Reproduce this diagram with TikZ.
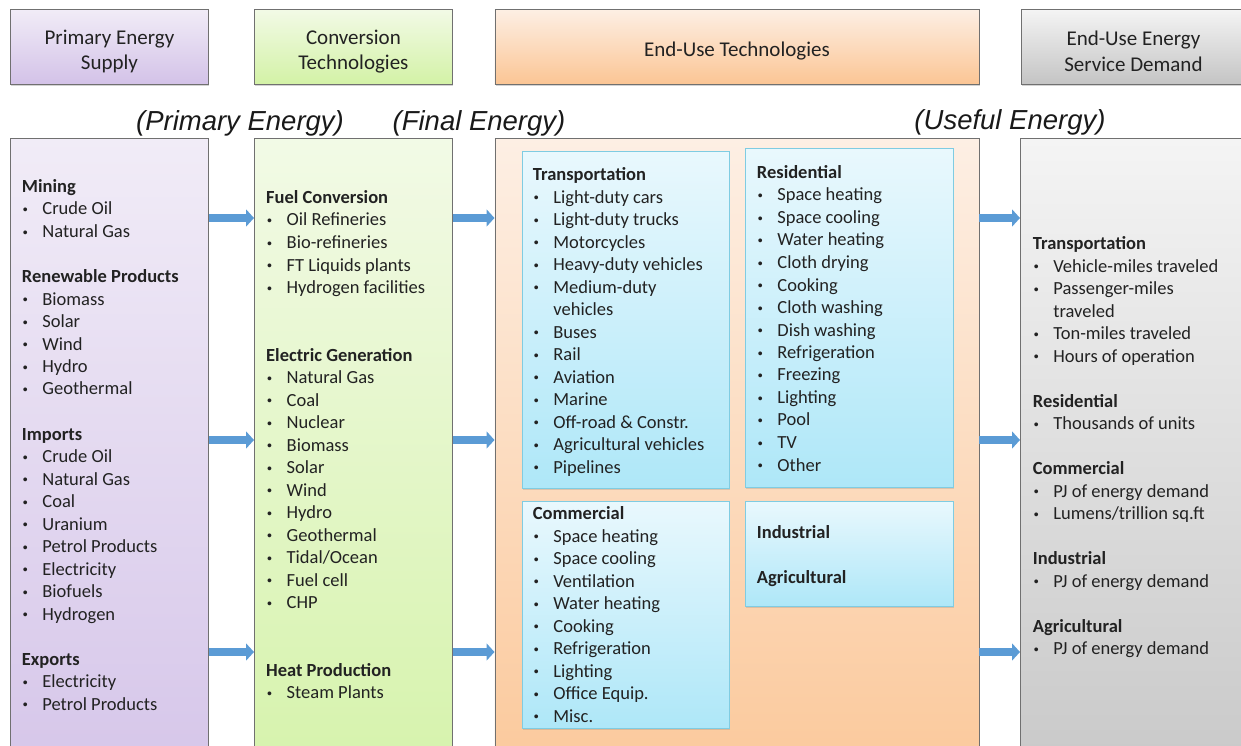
\documentclass[tikz,border=0pt]{standalone}
\usepackage{fontspec}
\setmainfont{Carlito}
\newfontfamily\labfont{Liberation Sans}
\usetikzlibrary{shadows,arrows.meta,calc}

\definecolor{txt}{HTML}{222222}
\definecolor{bordergray}{HTML}{707070}
\definecolor{ptop}{HTML}{F1ECF7}
\definecolor{pbot}{HTML}{D3C2E8}
\definecolor{gtop}{HTML}{F2FAE6}
\definecolor{gbot}{HTML}{D3F2A6}
\definecolor{otop}{HTML}{FDEFE4}
\definecolor{obot}{HTML}{FBC594}
\definecolor{ytop}{HTML}{F4F4F4}
\definecolor{ybot}{HTML}{C4C4C4}
\definecolor{subtop}{HTML}{E9F8FD}
\definecolor{subbot}{HTML}{AEE7F8}
\definecolor{subborder}{HTML}{7FCCE2}
\definecolor{arrowblue}{HTML}{5B9BD5}

\newlength\bw
\setlength\bw{20.5pt}
\newcommand\smallbul{\raisebox{0.2pt}{\labfont\fontsize{14}{14}\selectfont\textbullet}}
\newcommand\bhead[1]{\textbf{#1}\par}
\newcommand\bitem[1]{\makebox[\bw][l]{\hspace{1pt}\smallbul}#1\par}
\newcommand\bcont[1]{\hspace*{\bw}#1\par}
\newcommand\bgap{\mbox{}\par}
\newcommand\blist[1]{\parbox[t]{230pt}{#1}}

\begin{document}
\begin{tikzpicture}[x=1pt,y=-1pt,
  font=\fontsize{18.5}{22.5}\selectfont, text=txt,
  hdr/.style={draw=bordergray, line width=0.8pt, minimum height=75pt,
    anchor=north west, inner sep=0pt,
    drop shadow={shadow xshift=0.6pt, shadow yshift=-1.6pt, opacity=0.35}},
  hdrtext/.style={align=center, inner sep=0pt,
    font=\fontsize{21}{25.5}\selectfont},
  colbox/.style={draw=bordergray, line width=0.8pt, anchor=north west,
    inner sep=0pt, minimum height=700pt},
  subbox/.style={draw=subborder, line width=0.8pt, top color=subtop,
    bottom color=subbot, anchor=north west, inner sep=0pt,
    drop shadow={shadow xshift=0.6pt, shadow yshift=-1.6pt, opacity=0.25}},
  txtblk/.style={anchor=base west, inner sep=0pt},
  elabel/.style={font=\labfont\itshape\fontsize{27.5}{30}\selectfont, text=black!90, inner sep=0pt},
  flow/.style={draw=arrowblue, line width=8pt,
    -{Triangle[length=8pt,width=17pt]}}
]
\useasboundingbox (0,0) rectangle (1241,746);
\clip (0,0) rectangle (1241,746);

% header boxes
\node[hdr, top color=ptop, bottom color=pbot, minimum width=198pt] (h1) at (10,9) {};
\node[hdr, top color=gtop, bottom color=gbot, minimum width=198pt] (h2) at (254,9) {};
\node[hdr, top color=otop, bottom color=obot, minimum width=484pt] (h3) at (494.5,9) {};
\node[hdr, top color=ytop, bottom color=ybot, minimum width=224pt] (h4) at (1021,9) {};
\node[hdrtext] (h1t) at ($(h1.center)+(0,4.5)$) {Primary Energy\\Supply};
\node[hdrtext] (h2t) at ($(h2.center)+(0,4.5)$) {Conversion\\Technologies};
\node[hdrtext] (h3t) at ($(h3.center)+(0,4)$) {End-Use Technologies};
\node[hdrtext] (h4t) at ($(h4.center)+(0,4.5)$) {End-Use Energy\\Service Demand};

% energy labels
\node[elabel] (lp) at (240,123) {(Primary Energy)};
\node[elabel] (lf) at (479,123) {(Final Energy)};
\node[elabel] (lu) at (1010,122) {(Useful Energy)};

% columns
\node[colbox, top color=ptop, bottom color=pbot, minimum width=198pt] (pcol) at (10,138) {};
\node[colbox, top color=gtop, bottom color=gbot, minimum width=198pt] (gcol) at (254,138) {};
\node[colbox, top color=otop, bottom color=obot, minimum width=484pt] (ocol) at (494.5,138) {};
\node[colbox, top color=ytop, bottom color=ybot, minimum width=240pt] (ycol) at (1020,138) {};

% sub boxes in end-use column
\node[subbox, minimum width=207.3pt, minimum height=337.3pt] (tbox) at (521.7,150.7) {};
\node[subbox, minimum width=208pt, minimum height=339pt] (rbox) at (745,148) {};
\node[subbox, minimum width=207.3pt, minimum height=227.3pt] (cbox) at (521.7,500.7) {};
\node[subbox, minimum width=208pt, minimum height=105.3pt] (ibox) at (745,500.7) {};

% text: primary energy supply
\node[txtblk] (ptext) at (21.7,192.5) {\blist{%
\bhead{Mining}
\bitem{Crude Oil}
\bitem{Natural Gas}
\bgap
\bhead{Renewable Products}
\bitem{Biomass}
\bitem{Solar}
\bitem{Wind}
\bitem{Hydro}
\bitem{Geothermal}
\bgap
\bhead{Imports}
\bitem{Crude Oil}
\bitem{Natural Gas}
\bitem{Coal}
\bitem{Uranium}
\bitem{Petrol Products}
\bitem{Electricity}
\bitem{Biofuels}
\bitem{Hydrogen}
\bgap
\bhead{Exports}
\bitem{Electricity}
\bitem{Petrol Products}}};

% text: conversion technologies
\node[txtblk] (gtext) at (266,203.5) {\blist{%
\bhead{Fuel Conversion}
\bitem{Oil Refineries}
\bitem{Bio-refineries}
\bitem{FT Liquids plants}
\bitem{Hydrogen facilities}
\bgap
\bgap
\bhead{Electric Generation}
\bitem{Natural Gas}
\bitem{Coal}
\bitem{Nuclear}
\bitem{Biomass}
\bitem{Solar}
\bitem{Wind}
\bitem{Hydro}
\bitem{Geothermal}
\bitem{Tidal/Ocean}
\bitem{Fuel cell}
\bitem{CHP}
\bgap
\bgap
\bhead{Heat Production}
\bitem{Steam Plants}}};

% text: end-use technologies
\node[txtblk] (ttext) at (532.7,180.5) {\blist{%
\bhead{Transportation}
\bitem{Light-duty cars}
\bitem{Light-duty trucks}
\bitem{Motorcycles}
\bitem{Heavy-duty vehicles}
\bitem{Medium-duty}
\bcont{vehicles}
\bitem{Buses}
\bitem{Rail}
\bitem{Aviation}
\bitem{Marine}
\bitem{Off-road \& Constr.}
\bitem{Agricultural vehicles}
\bitem{Pipelines}}};

\node[txtblk] (rtext) at (756.7,178.5) {\blist{%
\bhead{Residential}
\bitem{Space heating}
\bitem{Space cooling}
\bitem{Water heating}
\bitem{Cloth drying}
\bitem{Cooking}
\bitem{Cloth washing}
\bitem{Dish washing}
\bitem{Refrigeration}
\bitem{Freezing}
\bitem{Lighting}
\bitem{Pool}
\bitem{TV}
\bitem{Other}}};

\node[txtblk] (ctext) at (532.7,519.5) {\blist{%
\bhead{Commercial}
\bitem{Space heating}
\bitem{Space cooling}
\bitem{Ventilation}
\bitem{Water heating}
\bitem{Cooking}
\bitem{Refrigeration}
\bitem{Lighting}
\bitem{Office Equip.}
\bitem{Misc.}}};

\node[txtblk] (itext) at (756.7,538.5) {\blist{%
\bhead{Industrial}
\bgap
\bhead{Agricultural}}};

% text: service demand
\node[txtblk] (ytext) at (1032.7,249.5) {\blist{%
\bhead{Transportation}
\bitem{Vehicle-miles traveled}
\bitem{Passenger-miles}
\bcont{traveled}
\bitem{Ton-miles traveled}
\bitem{Hours of operation}
\bgap
\bhead{Residential}
\bitem{Thousands of units}
\bgap
\bhead{Commercial}
\bitem{PJ of energy demand}
\bitem{Lumens/trillion sq.ft}
\bgap
\bhead{Industrial}
\bitem{PJ of energy demand}
\bgap
\bhead{Agricultural}
\bitem{PJ of energy demand}}};

% flow arrows
\coordinate (r1) at (0,218);
\coordinate (r2) at (0,440);
\coordinate (r3) at (0,652);
\foreach \r in {r1,r2,r3}{
  \draw[flow] (pcol.east |- \r) -- (gcol.west |- \r);
  \draw[flow] (gcol.east |- \r) -- (ocol.west |- \r);
  \draw[flow] (ocol.east |- \r) -- (ycol.west |- \r);
}
\end{tikzpicture}
\end{document}
